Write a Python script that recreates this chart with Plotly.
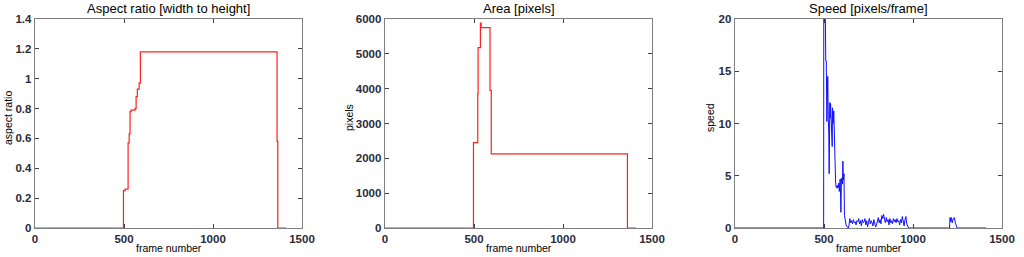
import plotly.graph_objects as go

# ---------------- data ----------------
aspect_frames = [0, 497, 506, 523, 526, 529, 534, 540, 562, 568, 575, 585, 590, 592, 1360, 1364, 1410]
aspect_values = [0, 0.25, 0.26, 0.57, 0.57, 0.63, 0.78, 0.79, 0.80, 0.88, 0.93, 0.97, 0.97, 1.18, 0.58, 0, 0]

area_frames = [0, 497, 521, 523, 536, 540, 590, 597, 1362, 1410]
area_values = [0, 2450, 3850, 5180, 5880, 5750, 3950, 2130, 0, 0]

speed_frames = [0, 498, 499, 505, 510, 513, 516, 519, 521, 524, 527, 529, 531, 533, 535, 537, 540,
                543, 546, 548, 551, 555, 558, 562, 565, 568, 571, 574, 577, 580, 583, 586, 589,
                591, 593, 595, 598, 601, 604, 606, 608, 610, 612, 615, 620, 624, 630, 637,
                640, 645, 650, 655, 660, 665, 670, 675, 680, 685, 690, 695, 700, 705, 710, 715,
                720, 725, 730, 735, 740, 745, 750, 755, 760, 765, 770, 775, 780, 785, 790, 795,
                800, 805, 810, 815, 820, 825, 830, 835, 840, 845, 850, 855, 860, 865, 870, 875,
                880, 885, 890, 895, 900, 905, 910, 915, 920, 925, 930, 935, 940, 945, 950, 955,
                960, 965, 970, 975, 1200, 1205, 1208, 1212, 1216, 1220, 1226, 1232, 1238, 1243,
                1248, 1410]
speed_values = [0, 0, 28, 25, 16, 16, 10.2, 12, 14.5, 10.5, 9, 5.2, 11, 12, 10.5, 11.9, 10.8,
                9.5, 7.8, 11.5, 10, 11.2, 8, 4.8, 4.4, 3.9, 4.0, 3.8, 4.1, 3.9, 4.3, 3.5, 4.4,
                4.7, 3.0, 1.5, 4.6, 4.8, 4.2, 6.4, 5.0, 4.6, 5.2, 1.2, 0.5, 0.3, 0.1, 0,
                0.2, 0.9, 0.5, 0.7, 0.4, 0.8, 0.5, 0.6, 0.3, 0.7, 0.6, 0.9, 0.4, 0.7, 0.2, 0.8,
                0.5, 0.6, 0.9, 0.3, 0.7, 0.1, 0.6, 0.9, 0.4, 0.7, 0.5, 0.2, 0.8, 0.4, 0.1, 0.3,
                0.6, 1.0, 0.5, 0.8, 0.4, 1.2, 0.9, 1.3, 0.8, 0.5, 1.0, 0.6, 0.8, 0.3, 0.9, 0.5,
                0.7, 0.4, 0.9, 0.6, 0.8, 0.5, 0.9, 0.6, 0.7, 0.3, 0.8, 0.5, 1.1, 0.6, 0.2, 0.8,
                1.1, 0.4, 0.1, 0, 0, 0, 1.0, 0.6, 1.0, 0.5, 0.9, 1.0, 0.5, 0.3,
                0, 0]

titles = ["Aspect ratio [width to height]", "Area [pixels]", "Speed [pixels/frame]"]
ylabels = ["aspect ratio", "pixels", "speed"]
xlabel = "frame number"
x_ticks = [0, 500, 1000, 1500]
aspect_ticks = [0, 0.2, 0.4, 0.6, 0.8, 1, 1.2, 1.4]
area_ticks = [0, 1000, 2000, 3000, 4000, 5000, 6000]
speed_ticks = [0, 5, 10, 15, 20]

# ---------------- layout ----------------
W, H = 1024, 257
panels = [(35, 302), (385, 652), (735, 1002)]
top, bottom = 19, 228
ylabel_x = [8, 349, 710]

fig = go.Figure()
fig.add_trace(go.Scatter(x=aspect_frames, y=aspect_values, mode="lines", line_shape="hv",
                         line=dict(color="#ff2020", width=1.2), xaxis="x", yaxis="y"))
fig.add_trace(go.Scatter(x=area_frames, y=area_values, mode="lines", line_shape="hv",
                         line=dict(color="#ff2020", width=1.2), xaxis="x2", yaxis="y2"))
fig.add_trace(go.Scatter(x=speed_frames, y=speed_values, mode="lines",
                         line=dict(color="#1010ff", width=1), xaxis="x3", yaxis="y3"))

tickfont = dict(family="Liberation Sans Narrow, Arial Narrow, Liberation Sans, Arial",
                size=11.5, color="#2a2a3a", weight="bold")
ydom = [1 - bottom / H, 1 - top / H]
yranges = [[0, 1.4], [0, 6000], [0, 20]]
yticks = [aspect_ticks, area_ticks, speed_ticks]

layout = dict(width=W, height=H, margin=dict(l=0, r=0, t=0, b=0, pad=0),
              paper_bgcolor="white", plot_bgcolor="white", showlegend=False)
axis_common = dict(showline=True, linecolor="#7f7f7f", linewidth=1.3, mirror="ticks",
                   ticks="inside", ticklen=4, tickcolor="#404040", tickwidth=1,
                   showgrid=False, zeroline=False, tickfont=tickfont, layer="below traces",
                   automargin=False)
annotations = []
for i, (x0, x1) in enumerate(panels):
    s = "" if i == 0 else str(i + 1)
    layout["xaxis" + s] = dict(axis_common, domain=[x0 / W, x1 / W], range=[0, 1500],
                               tickvals=x_ticks, anchor="y" + s)
    layout["yaxis" + s] = dict(axis_common, domain=ydom, range=yranges[i],
                               tickvals=yticks[i], tickformat="d" if i == 1 else None,
                               anchor="x" + s)
    cx = (x0 + x1) / 2 / W
    annotations.append(dict(text=titles[i], x=cx, y=1 - 9 / H, xref="paper", yref="paper",
                            showarrow=False, xanchor="center", yanchor="middle",
                            font=dict(family="Arial, Liberation Sans", size=13, color="black")))
    annotations.append(dict(text=xlabel, x=cx, y=1 - 248 / H, xref="paper", yref="paper",
                            showarrow=False, xanchor="center", yanchor="middle",
                            font=dict(family="Arial, Liberation Sans", size=10.5, color="black")))
    annotations.append(dict(text=ylabels[i], x=ylabel_x[i] / W, y=1 - 118 / H, xref="paper",
                            yref="paper", showarrow=False, textangle=-90,
                            xanchor="center", yanchor="middle",
                            font=dict(family="Arial, Liberation Sans", size=10.5, color="black")))
layout["annotations"] = annotations
fig.update_layout(**layout)

fig.write_html("out.html", config={"displayModeBar": False, "staticPlot": True},
               post_script="document.body.style.margin='0';document.body.style.overflow='hidden';")
